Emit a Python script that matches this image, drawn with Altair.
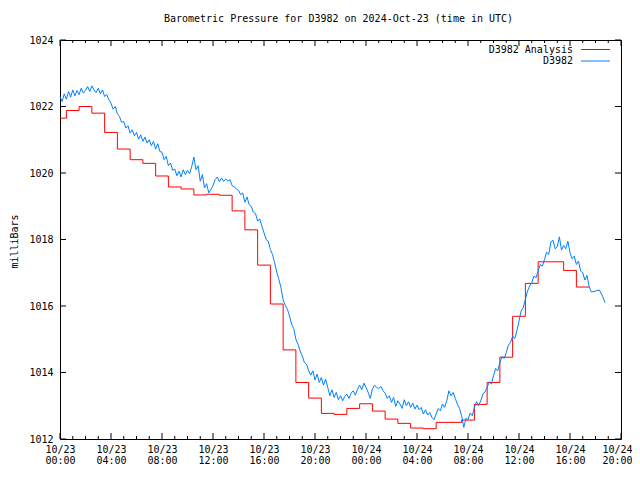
import json
import altair as alt
import pandas as pd

# ---------------- data ----------------
# analysis (hourly, drawn as steps), mbar
red_values = [
    1021.65, 1021.88, 1022.00, 1021.80, 1021.22, 1020.72, 1020.40, 1020.29,
    1019.91, 1019.58, 1019.52, 1019.34, 1019.36, 1019.33, 1018.86, 1018.29,
    1017.23, 1016.06, 1014.68, 1013.70, 1013.23, 1012.77, 1012.74, 1012.92,
    1013.06, 1012.84, 1012.60, 1012.47, 1012.33, 1012.31, 1012.50, 1012.50,
    1012.57, 1013.04, 1013.70, 1014.46, 1015.69, 1016.68, 1017.33, 1017.33,
    1017.07, 1016.57,
]

# station observations every 10 minutes from 10/23 00:00, mbar
blue_values = [
    1022.30, 1022.15, 1022.38, 1022.22, 1022.45, 1022.28,
    1022.50, 1022.32, 1022.48, 1022.36, 1022.55, 1022.40,
    1022.48, 1022.60, 1022.45, 1022.62, 1022.50, 1022.42,
    1022.55, 1022.38, 1022.50, 1022.30, 1022.36, 1022.20,
    1022.10, 1021.92, 1022.00, 1021.78, 1021.70, 1021.52,
    1021.55, 1021.35, 1021.42, 1021.20, 1021.30, 1021.12,
    1021.22, 1021.02, 1021.15, 1020.95, 1021.08, 1020.90,
    1021.00, 1020.82, 1020.95, 1020.72, 1020.88, 1020.65,
    1020.62, 1020.40, 1020.50, 1020.22, 1020.30, 1020.08,
    1020.12, 1019.92, 1020.05, 1019.88, 1020.10, 1019.95,
    1020.08, 1019.98, 1020.20, 1020.48, 1020.10, 1020.22,
    1019.75, 1019.95, 1019.55, 1019.68, 1019.40, 1019.50,
    1019.62, 1019.80, 1019.88, 1019.74, 1019.85, 1019.75,
    1019.82, 1019.76, 1019.80, 1019.62, 1019.58, 1019.52,
    1019.48, 1019.35, 1019.40, 1019.12, 1019.28, 1019.05,
    1019.00, 1018.82, 1018.78, 1018.55, 1018.62, 1018.40,
    1018.20, 1018.00, 1017.95, 1017.70, 1017.55, 1017.30,
    1017.02, 1016.80, 1016.55, 1016.18, 1016.02, 1015.90,
    1015.70, 1015.45, 1015.32, 1015.00, 1014.85, 1014.65,
    1014.50, 1014.30, 1014.25, 1014.05, 1013.92, 1014.05,
    1013.78, 1013.95, 1013.70, 1013.85, 1013.62, 1013.80,
    1013.55, 1013.30, 1013.48, 1013.25, 1013.40, 1013.18,
    1013.30, 1013.15, 1013.28, 1013.35, 1013.22, 1013.38,
    1013.45, 1013.32, 1013.50, 1013.62, 1013.48, 1013.68,
    1013.55, 1013.40, 1013.22, 1013.50, 1013.62, 1013.55,
    1013.52, 1013.58, 1013.45, 1013.38, 1013.22, 1013.30,
    1013.10, 1013.25, 1012.98, 1013.15, 1013.05, 1012.92,
    1013.18, 1013.00, 1013.12, 1012.95, 1013.08, 1012.90,
    1013.02, 1012.88, 1012.95, 1012.75, 1012.88, 1012.72,
    1012.80, 1012.65, 1012.58, 1012.75, 1012.92, 1012.85,
    1013.05, 1012.95, 1013.15, 1013.45, 1013.30, 1013.40,
    1013.22, 1013.05, 1012.92, 1012.70, 1012.35, 1012.62,
    1012.58, 1012.78, 1012.70, 1012.95, 1013.12, 1013.00,
    1013.15, 1013.35, 1013.42, 1013.55, 1013.72, 1013.65,
    1013.90, 1014.12, 1014.05, 1014.30, 1014.48, 1014.42,
    1014.60, 1014.82, 1014.90, 1015.10, 1015.02, 1015.25,
    1015.55, 1015.85, 1015.95, 1016.20, 1016.45, 1016.60,
    1016.70, 1016.90, 1016.85, 1017.05, 1017.25, 1017.20,
    1017.40, 1017.62, 1017.55, 1017.92, 1017.98, 1017.72,
    1017.78, 1018.08, 1017.68, 1017.82, 1017.72, 1017.95,
    1017.60, 1017.42, 1017.50, 1017.25, 1017.35, 1017.05,
    1017.00, 1016.78, 1016.92, 1016.58,
]
# sparse observations at the end (hours since 10/23 00:00)
blue_tail_hours = [41.67, 42.0, 42.3, 42.55, 42.75]
blue_tail_values = [1016.42, 1016.45, 1016.48, 1016.30, 1016.10]

x_tick_hours = list(range(0, 45, 4))
x_minor_hours = [h for h in range(0, 45) if h % 4 != 0]
x_label_dates = ["10/23", "10/23", "10/23", "10/23", "10/23", "10/23",
                 "10/24", "10/24", "10/24", "10/24", "10/24", "10/24"]
x_label_times = ["00:00", "04:00", "08:00", "12:00", "16:00", "20:00",
                 "00:00", "04:00", "08:00", "12:00", "16:00", "20:00"]
y_ticks = [1012, 1014, 1016, 1018, 1020, 1022, 1024]

title_text = "Barometric Pressure for D3982 on 2024-Oct-23 (time in UTC)"
y_title = "milliBars"
legend_labels = ["D3982 Analysis", "D3982"]
RED = "#ff0000"
BLUE = "#0080ff"
FONT = "DejaVu Sans Mono"

# ---------------- tables ----------------
red_df = pd.DataFrame({
    "h": [0.0] + [k - 0.5 for k in range(1, len(red_values))] + [len(red_values) - 0.5],
    "p": red_values + [red_values[-1]],
})
blue_df = pd.DataFrame({
    "h": [i / 6 for i in range(len(blue_values))] + blue_tail_hours,
    "p": blue_values + blue_tail_values,
})
major_df = pd.DataFrame({"h": x_tick_hours})
minor_df = pd.DataFrame({"h": x_minor_hours})
yt_df = pd.DataFrame({"p": y_ticks})

W, H = 561, 399

xscale = alt.Scale(domain=[0, 44], nice=False, zero=False)
yscale = alt.Scale(domain=[1012, 1024], nice=False, zero=False)

label_expr = "[{d}[datum.value/4], {t}[datum.value/4]]".format(
    d=json.dumps(x_label_dates), t=json.dumps(x_label_times))

xaxis = alt.Axis(values=x_tick_hours, labelExpr=label_expr, ticks=False,
                 domain=False, grid=False, title=None, labelFlush=False,
                 labelOverlap=False, labelPadding=5, labelLineHeight=11,
                 labelOffset={"condition": {"test": "datum.value == 44",
                                            "value": -4}, "value": 0},
                 labelFont=FONT, labelFontSize=10, labelColor="black")
yaxis = alt.Axis(values=y_ticks, format="d", ticks=False, domain=False,
                 grid=False, labelPadding=7, labelFont=FONT, labelFontSize=10,
                 labelColor="black", title=None)


def X(field="h"):
    return alt.X(f"{field}:Q", scale=xscale, axis=xaxis)


def Y(field="p"):
    return alt.Y(f"{field}:Q", scale=yscale, axis=yaxis)


red_line = alt.Chart(red_df).mark_line(
    interpolate="step-after", color=RED, strokeWidth=1).encode(x=X(), y=Y())
blue_line = alt.Chart(blue_df).mark_line(
    color=BLUE, strokeWidth=1).encode(x=X(), y=Y())

# inward ticks (bottom/top, left/right)
bot_major = alt.Chart(major_df).mark_rule(color="black", strokeWidth=1).encode(
    x=X(), y=alt.value(H), y2=alt.value(H - 6))
top_major = alt.Chart(major_df).mark_rule(color="black", strokeWidth=1).encode(
    x=X(), y=alt.value(0), y2=alt.value(6))
bot_minor = alt.Chart(minor_df).mark_rule(color="black", strokeWidth=1).encode(
    x=X(), y=alt.value(H), y2=alt.value(H - 3))
top_minor = alt.Chart(minor_df).mark_rule(color="black", strokeWidth=1).encode(
    x=X(), y=alt.value(0), y2=alt.value(3))
left_ticks = alt.Chart(yt_df).mark_rule(color="black", strokeWidth=1).encode(
    y=Y(), x=alt.value(0), x2=alt.value(6))
right_ticks = alt.Chart(yt_df).mark_rule(color="black", strokeWidth=1).encode(
    y=Y(), x=alt.value(W), x2=alt.value(W - 6))

one = pd.DataFrame({"k": [0]})

# titles as text marks
title_mark = alt.Chart(one).mark_text(
    align="center", baseline="middle", font=FONT, fontSize=10, color="black",
    text=title_text).encode(x=alt.value(W / 2 - 2), y=alt.value(-21))
ytitle_mark = alt.Chart(one).mark_text(
    align="center", baseline="middle", font=FONT, fontSize=10, color="black",
    angle=270, text=y_title).encode(x=alt.value(-45), y=alt.value(H / 2 + 2))

# key (gnuplot style: label then line sample)
key_red_text = alt.Chart(one).mark_text(
    align="right", baseline="middle", font=FONT, fontSize=10, color="black",
    text=legend_labels[0]).encode(x=alt.value(513), y=alt.value(9.5))
key_blue_text = alt.Chart(one).mark_text(
    align="right", baseline="middle", font=FONT, fontSize=10, color="black",
    text=legend_labels[1]).encode(x=alt.value(513), y=alt.value(21))
key_red_line = alt.Chart(one).mark_rule(color=RED, strokeWidth=1).encode(
    x=alt.value(521), x2=alt.value(550), y=alt.value(9.5))
key_blue_line = alt.Chart(one).mark_rule(color=BLUE, strokeWidth=1).encode(
    x=alt.value(521), x2=alt.value(550), y=alt.value(21))

chart = alt.layer(
    red_line, blue_line,
    bot_major, top_major, bot_minor, top_minor, left_ticks, right_ticks,
    title_mark, ytitle_mark,
    key_red_text, key_blue_text, key_red_line, key_blue_line,
).properties(
    width=W, height=H,
    autosize="none",
    padding={"left": 52, "top": 32, "right": 11, "bottom": 28},
    background="white",
).configure_view(stroke="black", strokeWidth=1)

chart.save("out.html", embed_options={"renderer": "svg", "actions": False})
